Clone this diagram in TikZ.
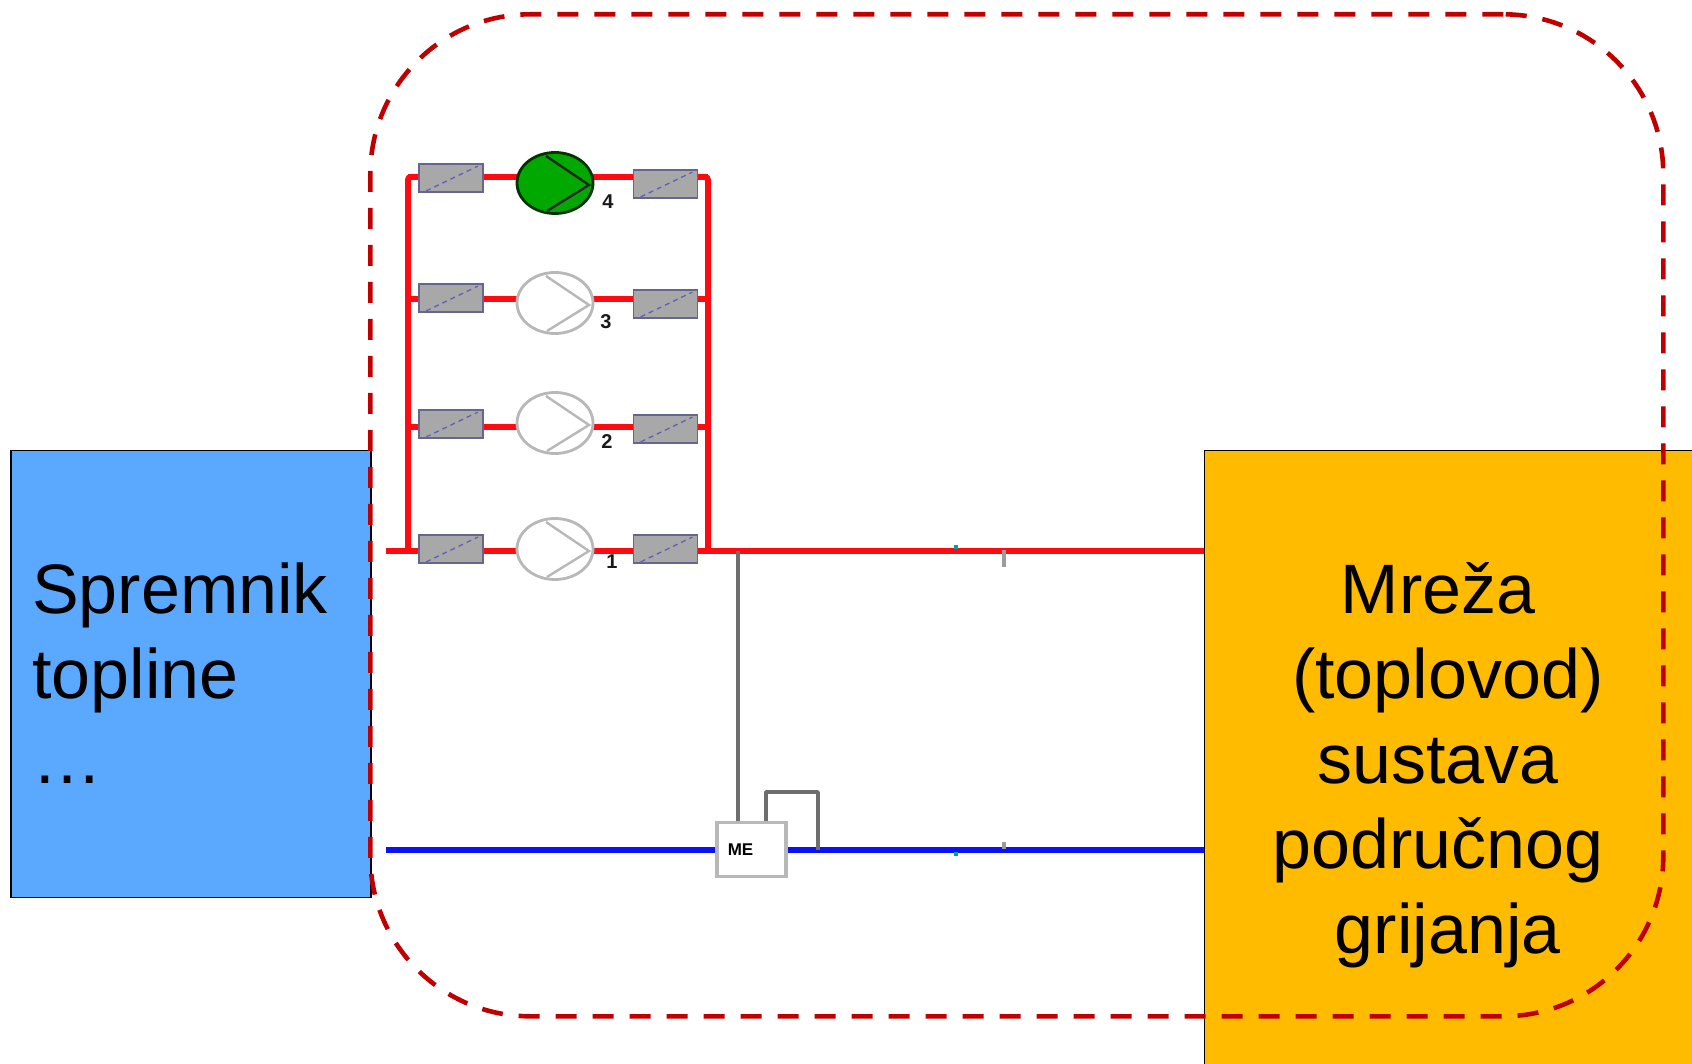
\documentclass[tikz,border=0pt]{standalone}
\usepackage{fontspec}
\setmainfont{Liberation Sans}
\usetikzlibrary{shapes.geometric}
\definecolor{tankblue}{HTML}{5BA8FF}
\definecolor{netorange}{HTML}{FFBB00}
\definecolor{frameRed}{HTML}{C00000}
\definecolor{pipeRed}{HTML}{FF0A10}
\definecolor{pipeBlue}{HTML}{0A10F8}
\definecolor{valveGrey}{HTML}{A8A8A8}
\definecolor{valveEdge}{HTML}{66668C}
\definecolor{valveDiag}{HTML}{6060B8}
\definecolor{pumpEdge}{HTML}{B8B8B8}
\definecolor{pumpGreen}{HTML}{00A800}
\definecolor{signalGrey}{HTML}{6E6E6E}
\tikzset{
  x=1pt,y=-1pt,
  bigbox/.style={draw=black,line width=1.6pt,inner sep=0pt,anchor=north west},
  bigtext/.style={inner sep=0pt,font=\fontsize{70}{85}\selectfont,text=black},
  frameline/.style={draw=frameRed,line width=4.6pt,dash pattern=on 21pt off 16pt,rounded corners=160pt,inner sep=0pt,anchor=north west},
  redpipe/.style={draw=pipeRed,line width=5.4pt},
  bluepipe/.style={draw=pipeBlue,line width=5.4pt},
  signal/.style={draw=signalGrey,line width=3.6pt},
  valve/.style={rectangle,draw=valveEdge,line width=1.8pt,fill=valveGrey,minimum width=64pt,minimum height=28pt,inner sep=0pt},
  valvediag/.style={draw=valveDiag,line width=1.3pt,dash pattern=on 5pt off 4pt},
  pump/.style={ellipse,draw=pumpEdge,line width=2.8pt,fill=white,minimum width=76pt,minimum height=61pt,inner sep=0pt},
  pumpon/.style={pump,draw=black!80!green,fill=pumpGreen},
  num/.style={inner sep=0pt,font=\fontsize{20}{20}\selectfont\bfseries,text=black!90},
  tick/.style={draw=pumpEdge!85!black,line width=3.4pt},
  dotmark/.style={draw=teal!75!cyan,line width=3.6pt},
  ctrl/.style={rectangle,draw=pumpEdge,line width=3.6pt,fill=white,minimum width=69pt,minimum height=54pt,inner sep=0pt,font=\fontsize{17}{17}\selectfont\bfseries}
}
\begin{document}
\begin{tikzpicture}
\useasboundingbox[fill=white] (0,0) rectangle (1692,1064);

% large boxes
\node[bigbox,fill=tankblue,minimum width=360pt,minimum height=447pt] (tank) at (10,449.5) {};
\node[bigbox,fill=netorange,minimum width=500pt,minimum height=630pt] (net) at (1203.5,449.5) {};
\node[bigtext,anchor=base west,align=left] (tanktext) at (32,783) {Spremnik\\[0pt]topline\\[0pt]…};
\node[bigtext,anchor=base,align=center] (nettext) at (1438,953) {Mreža\\\hspace*{0.278em}(toplovod)\\sustava\\područnog\\\hspace*{0.278em}grijanja};

% named junctions
\coordinate (in)  at (386,551);
\coordinate (jl4) at (408,177);
\coordinate (jr4) at (708,177);
\coordinate (jl3) at (408,299);
\coordinate (jr3) at (708,299);
\coordinate (jl2) at (408,427);
\coordinate (jr2) at (708,427);
\coordinate (jl1) at (408,551);
\coordinate (jr1) at (708,551);
\coordinate (tap) at (738,551);
\coordinate (rin) at (386,850);
\coordinate (rjoin) at (818,850);
\coordinate (lt)  at (766,792);
\coordinate (rt)  at (818,792);
\coordinate (netr) at (1204,551);
\coordinate (netb) at (1204,850);

% valves, pumps
\foreach \n/\vly/\py/\vry/\ny/\nx/\sty in {4/178/183/184/202/608/pumpon,3/298/303/304/322/606/pump,2/424/423/429/442/607/pump,1/549/549/549/562/612/pump}{
  \draw[redpipe] (jl\n) -- (jr\n);
  \node[valve] (vl\n) at (451,\vly) {};
  \node[valve] (vr\n) at (665.5,\vry) {};
  \node[\sty] (p\n) at (555,\py) {};
  \draw[valvediag] (vl\n.south west) ++(8,-2) -- ([shift={(-6,3)}]vl\n.north east);
  \draw[valvediag] (vr\n.south west) ++(8,-2) -- ([shift={(-6,3)}]vr\n.north east);
  \coordinate (ia\n) at ([shift={(-9,-27)}]p\n.center);
  \coordinate (ib\n) at ([shift={(34,2)}]p\n.center);
  \coordinate (ic\n) at ([shift={(-8,28)}]p\n.center);
  \node[num] (n\n) at (\nx,\ny) {\n};
}
\draw[line width=2.4pt,draw=pumpEdge] (ia3) -- (ib3) -- (ic3);
\draw[line width=2.4pt,draw=pumpEdge] (ia2) -- (ib2) -- (ic2);
\draw[line width=2.4pt,draw=pumpEdge] (ia1) -- (ib1) -- (ic1);
\draw[line width=2.4pt,draw=black!85] (ia4) -- (ib4) -- (ic4);

% red pipework
\draw[redpipe,line width=6pt,rounded corners=3pt] (jl1) -- (jl4) -- (vl4.west |- jl4);
\draw[redpipe,line width=6pt,rounded corners=3pt] (jr1) -- (jr4) -- (vr4.east |- jr4);
\draw[redpipe] (in) -- (vl1.west |- in);
\draw[redpipe] (vr1.east |- netr) -- (netr);

% control unit and return line
\node[ctrl] (me) at (751.5,849.5) {\hspace*{-22pt}ME};
\draw[bluepipe] (rin) -- (me.west |- rin);
\draw[bluepipe] (me.east |- netb) -- (netb);
\draw[signal] (tap) -- (tap |- me.north);
\draw[signal,line join=round] (lt |- me.north) -- (lt) -- (rt) -- (rjoin);

% small marks on the pipes
\coordinate (m1) at (956,549);
\coordinate (m2) at (956,852);
\coordinate (t1) at (1004,550);
\coordinate (t2) at (1004,842);
\draw[dotmark] (m1) -- ++(0,-4);
\draw[dotmark] (m2) -- ++(0,4);
\draw[tick] (t1) -- ++(0,17);
\draw[tick] (t2) -- ++(0,7);

% dashed boundary
\node[frameline,minimum width=1293pt,minimum height=1002pt] (frame) at (368,12) {};
\end{tikzpicture}
\end{document}
